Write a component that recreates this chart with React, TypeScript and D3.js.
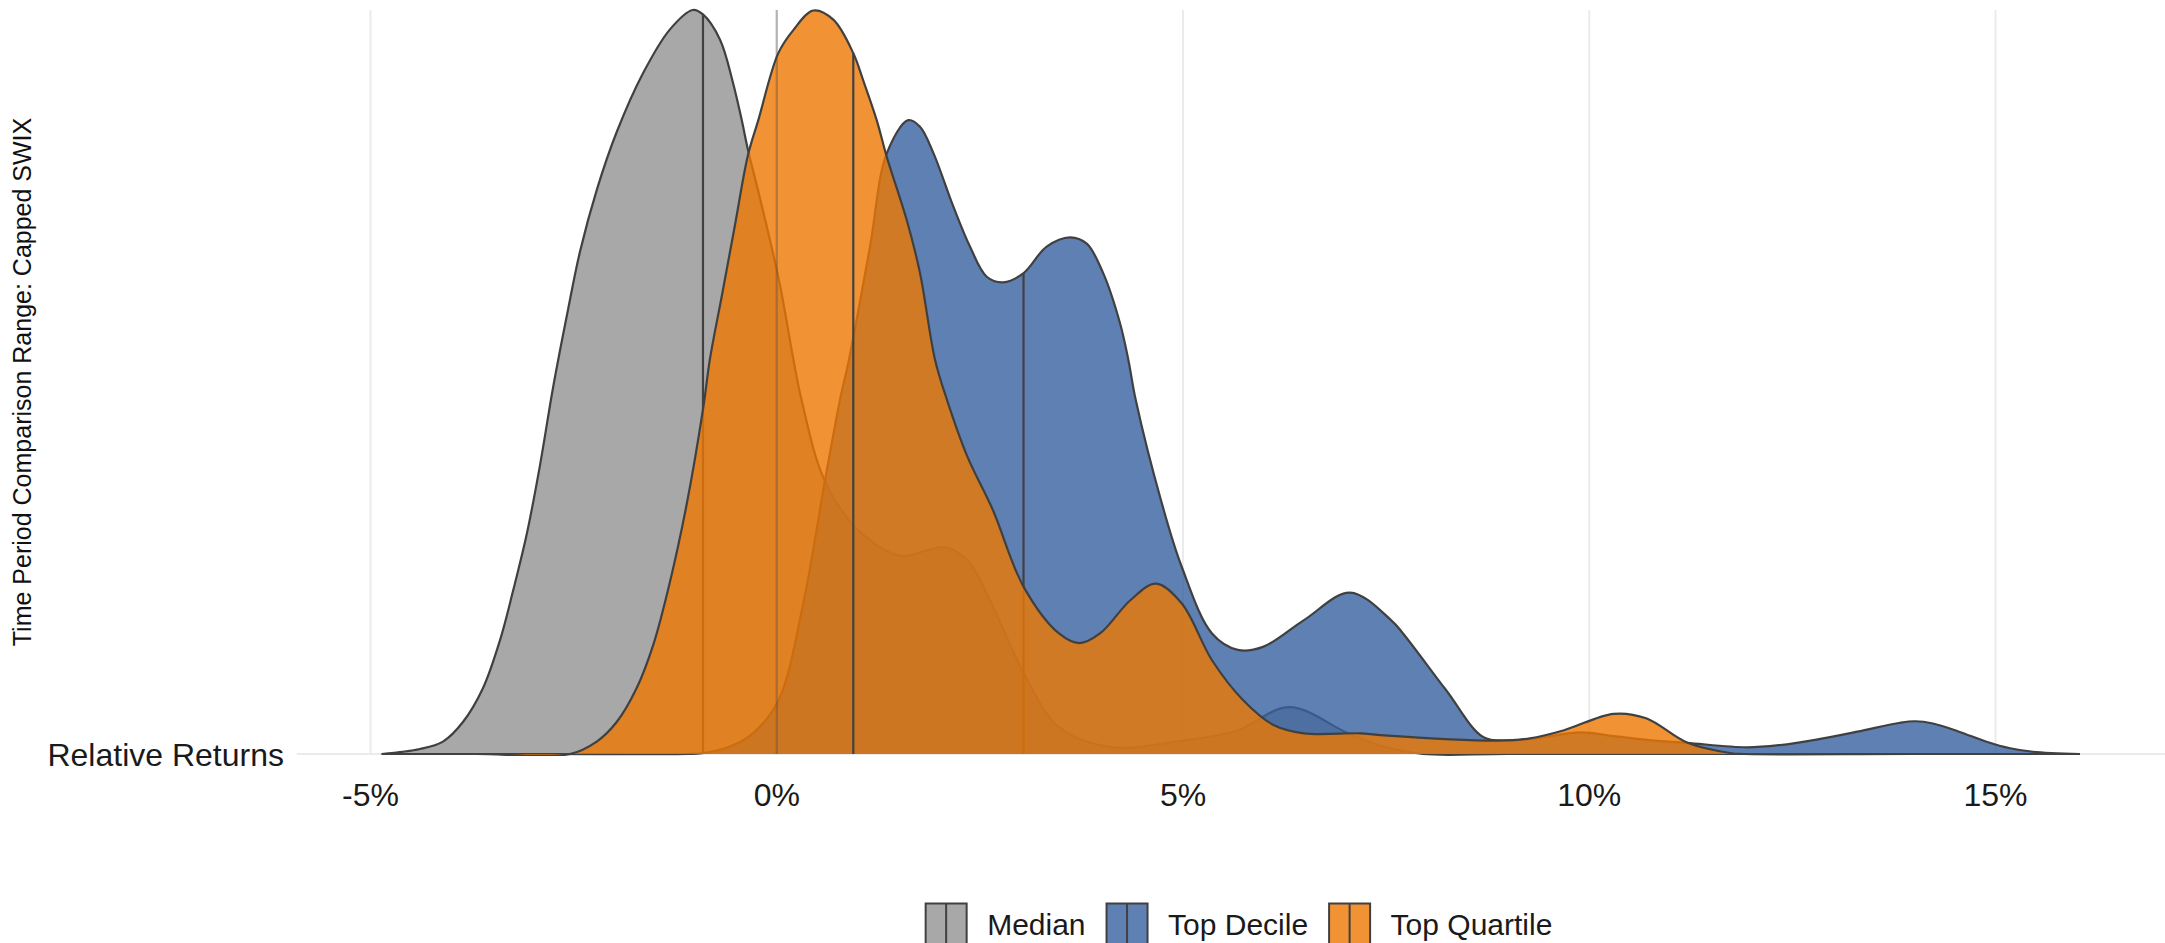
import React from 'react';
import * as d3 from 'd3';

// ---- Data (x in %, density relative to the tallest ridge) ----
const seriesNames = ['Median', 'Top Decile', 'Top Quartile'];

const medianX = [-4.862, -4.391, -4.108, -3.862, -3.615, -3.406, -3.246, -3.074, -2.914, -2.754, -2.582, -2.422, -2.213, -1.966, -1.646, -1.314, -1.034, -0.908, -0.698, -0.538, -0.431, -0.354, -0.206, 0.027, 0.305, 0.588, 0.963, 1.406, 1.59, 2.058, 2.341, 2.661, 3.037, 3.474, 4.102, 5.049, 5.677, 6.305, 7.031, 7.486, 7.95, 9.0, 12.0, 16.04];
const medianDensity = [0, 0.0067, 0.0167, 0.043, 0.0887, 0.153, 0.219, 0.297, 0.388, 0.492, 0.59, 0.675, 0.759, 0.837, 0.915, 0.974, 1.0, 0.994, 0.96, 0.902, 0.852, 0.812, 0.747, 0.637, 0.476, 0.368, 0.305, 0.27, 0.266, 0.278, 0.261, 0.198, 0.109, 0.036, 0.0094, 0.0188, 0.032, 0.063, 0.028, 0.0094, 0, 0, 0, 0];

const topDecileX = [-4.862, -3.0, -1.1, -0.92, -0.6, -0.292, 0.023, 0.335, 0.588, 0.778, 0.889, 1.148, 1.353, 1.619, 1.763, 1.927, 2.173, 2.378, 2.584, 2.788, 3.034, 3.322, 3.609, 3.815, 4.019, 4.225, 4.327, 4.418, 4.729, 4.983, 5.357, 5.674, 5.985, 6.489, 7.056, 7.56, 7.708, 8.237, 8.692, 8.996, 9.4, 9.89, 10.3, 10.71, 11.2, 11.94, 12.35, 12.78, 13.3, 13.825, 14.01, 14.23, 14.55, 14.89, 15.18, 15.46, 16.04];
const topDecileDensity = [0, 0, 0, 0.001, 0.009, 0.0278, 0.0726, 0.207, 0.364, 0.476, 0.53, 0.682, 0.807, 0.852, 0.843, 0.808, 0.736, 0.682, 0.6415, 0.634, 0.646, 0.682, 0.6945, 0.686, 0.646, 0.579, 0.53, 0.476, 0.341, 0.252, 0.162, 0.14, 0.144, 0.18, 0.217, 0.18, 0.162, 0.086, 0.023, 0.018, 0.022, 0.029, 0.024, 0.019, 0.015, 0.009, 0.012, 0.019, 0.03, 0.042, 0.044, 0.041, 0.03, 0.0165, 0.0077, 0.003, 0];

const topQuartileX = [-4.862, -3.7, -2.545, -2.216, -1.97, -1.724, -1.519, -1.314, -1.108, -0.904, -0.822, -0.674, -0.514, -0.354, -0.227, 0.019, 0.204, 0.45, 0.696, 0.942, 1.062, 1.23, 1.353, 1.599, 1.763, 1.948, 2.095, 2.345, 2.66, 3.037, 3.474, 3.727, 3.978, 4.355, 4.668, 4.983, 5.357, 5.738, 6.114, 6.489, 7.178, 7.425, 8.86, 9.27, 9.69, 10.3, 10.7, 11.21, 11.75, 11.9, 14.0, 16.04];
const topQuartileDensity = [0, 0, 0, 0.0167, 0.043, 0.0887, 0.147, 0.2316, 0.336, 0.466, 0.531, 0.617, 0.711, 0.805, 0.852, 0.942, 0.973, 0.9993, 0.987, 0.942, 0.906, 0.852, 0.803, 0.718, 0.6465, 0.53, 0.476, 0.4, 0.328, 0.225, 0.162, 0.149, 0.162, 0.207, 0.229, 0.2026, 0.126, 0.0726, 0.039, 0.0278, 0.0278, 0.0255, 0.018, 0.021, 0.032, 0.054, 0.048, 0.015, 0.001, 0, 0, 0];

const quantileLines = [-0.908, 3.037, 0.942];
const xTicks = [-5, 0, 5, 10, 15];
const referenceLine = 0;
const yCategory = 'Relative Returns';
const yTitle = 'Time Period Comparison Range: Capped SWIX';
const fillColors = ['#929292', '#3760A0', '#EE7803'];

const W = 2165;
const H = 943;
const FONT = "'Liberation Sans', Arial, sans-serif";
const OUTLINE = '#404040';
const ALPHA = 0.8;

function interp(xs: number[], ys: number[], v: number) {
  for (let i = 1; i < xs.length; i++) {
    if (v <= xs[i]) {
      const t = (v - xs[i - 1]) / (xs[i] - xs[i - 1]);
      return ys[i - 1] + t * (ys[i] - ys[i - 1]);
    }
  }
  return ys[ys.length - 1];
}

export default function App() {
  const seriesX = [medianX, topDecileX, topQuartileX];
  const seriesY = [medianDensity, topDecileDensity, topQuartileDensity];

  const x = d3.scaleLinear().domain([-5, 15]).range([370.5, 1995.5]);
  const y = d3.scaleLinear().domain([0, 1]).range([754, 10]);

  const allX = seriesX.flat();
  const [xmin, xmax] = d3.extent(allX) as [number, number];
  const pad = (xmax - xmin) * 0.05;
  const panelLeft = x(xmin - pad);
  const panelRight = Math.min(W, x(xmax + pad));
  const baseY = y(0);

  const curve = d3.curveCatmullRom.alpha(0.5);
  const yc = (v: number) => Math.min(baseY, y(v));
  const area = d3
    .area<[number, number]>()
    .x((d) => x(d[0]))
    .y0(baseY)
    .y1((d) => yc(d[1]))
    .curve(curve);
  const line = d3
    .line<[number, number]>()
    .x((d) => x(d[0]))
    .y((d) => yc(d[1]))
    .curve(curve);

  // legend layout measured from text widths
  let widths = seriesNames.map((n) => n.length * 16);
  if (typeof document !== 'undefined') {
    const ctx = document.createElement('canvas').getContext('2d');
    if (ctx) {
      ctx.font = `30px ${FONT}`;
      widths = seriesNames.map((n) => ctx.measureText(n).width);
    }
  }
  const keySize = 41;
  const keyGap = 20.5;
  const itemGap = 21;
  const totalW = widths.reduce((s, w) => s + keySize + keyGap + w, 0) + itemGap * (seriesNames.length - 1);
  const legendCenter = 1239;
  let cursor = legendCenter - totalW / 2;
  const legendItems = seriesNames.map((n, i) => {
    const item = { name: n, x: cursor, w: widths[i], i };
    cursor += keySize + keyGap + widths[i] + itemGap;
    return item;
  });
  const keyTop = 903.5;

  return (
    <svg
      width={W}
      height={H}
      style={{ position: 'absolute', left: 0, top: 0, display: 'block', background: '#fff' }}
      fontFamily={FONT}
    >
      <defs>
        <clipPath id="panel">
          <rect x={panelLeft} y={0} width={panelRight - panelLeft} height={baseY + 2} />
        </clipPath>
      </defs>
      <rect x={0} y={0} width={W} height={H} fill="#fff" />
      {/* grid */}
      {xTicks.map((t) => (
        <line key={'g' + t} x1={x(t)} x2={x(t)} y1={y(1)} y2={baseY} stroke="#EBEBEB" strokeWidth={2} />
      ))}
      <line x1={panelLeft} x2={panelRight} y1={baseY} y2={baseY} stroke="#EBEBEB" strokeWidth={2} />

      {/* ridges */}
      <g clipPath="url(#panel)">
        {seriesNames.map((name, i) => {
          const pts: [number, number][] = seriesX[i].map((v, j) => [v, seriesY[i][j]]);
          const q = quantileLines[i];
          const qy = interp(seriesX[i], seriesY[i], q);
          return (
            <g key={name}>
              <path d={area(pts) || ''} fill={fillColors[i]} fillOpacity={ALPHA} stroke="none" />
              <path d={line(pts) || ''} fill="none" stroke={OUTLINE} strokeWidth={2.2} strokeLinejoin="round" />
              <line x1={x(q)} x2={x(q)} y1={baseY} y2={y(qy)} stroke={OUTLINE} strokeWidth={2.2} />
            </g>
          );
        })}
      </g>

      {/* zero reference line */}
      <line
        x1={x(referenceLine)}
        x2={x(referenceLine)}
        y1={y(1)}
        y2={baseY}
        stroke={OUTLINE}
        strokeOpacity={0.33}
        strokeWidth={2.2}
      />

      {/* x axis labels */}
      {xTicks.map((t) => (
        <text key={'t' + t} x={x(t)} y={806} textAnchor="middle" fontSize={32} fill="#1a1a1a">
          {`${t}%`}
        </text>
      ))}
      {/* y category label */}
      <text x={284} y={766} textAnchor="end" fontSize={32} fill="#1a1a1a">
        {yCategory}
      </text>
      {/* y title */}
      <text transform={`translate(31, 382) rotate(-90)`} textAnchor="middle" fontSize={25} fill="#111">
        {yTitle}
      </text>

      {/* legend */}
      {legendItems.map((it) => (
        <g key={'l' + it.name}>
          <rect
            x={it.x}
            y={keyTop}
            width={keySize}
            height={keySize}
            fill={fillColors[it.i]}
            fillOpacity={ALPHA}
            stroke={OUTLINE}
            strokeWidth={2}
          />
          <line
            x1={it.x + keySize / 2}
            x2={it.x + keySize / 2}
            y1={keyTop}
            y2={keyTop + keySize}
            stroke={OUTLINE}
            strokeWidth={2}
          />
          <text x={it.x + keySize + keyGap} y={935} fontSize={30} fill="#1a1a1a">
            {it.name}
          </text>
        </g>
      ))}
    </svg>
  );
}
